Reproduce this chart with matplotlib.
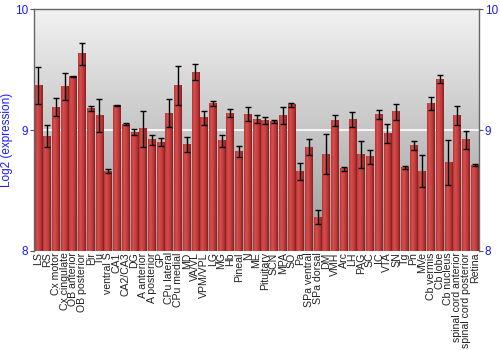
import matplotlib
matplotlib.use('Agg')
import matplotlib.pyplot as plt
import numpy as np
from matplotlib.colors import LinearSegmentedColormap

regions = ['LS', 'RS', 'Cx motor', 'Cx cingulate', 'OB anterior', 'OB posterior',
           'Pir', 'Tu', 'ventral S', 'CA1', 'CA2/CA3', 'DG', 'A anterior',
           'A posterior', 'GP', 'CPu lateral', 'CPu medial', 'MD', 'VA/VL',
           'VPM/VPL', 'LG', 'MG', 'Hb', 'Pineal', 'N', 'ME', 'Pituitary', 'SCN',
           'MPA', 'SO', 'Pa', 'SPa ventral', 'SPa dorsal', 'DM', 'VMH', 'Arc',
           'LH', 'PAG', 'SC', 'IC', 'VTA', 'SN', 'Tg', 'Pn', 'MVe', 'Cb vermis',
           'Cb lobe', 'Cb nucleus', 'spinal cord anterior',
           'spinal cord posterior', 'Retina']

expression = [9.37, 8.95, 9.19, 9.36, 9.44, 9.63, 9.18, 9.12, 8.66, 9.20,
              9.05, 8.98, 9.01, 8.92, 8.90, 9.14, 9.37, 8.88, 9.48, 9.10,
              9.22, 8.91, 9.14, 8.82, 9.13, 9.09, 9.08, 9.07, 9.12, 9.21,
              8.66, 8.86, 8.28, 8.80, 9.08, 8.68, 9.09, 8.80, 8.78, 9.13,
              8.97, 9.15, 8.69, 8.87, 8.66, 9.22, 9.42, 8.73, 9.12, 8.92,
              8.71]

errors = [0.155, 0.09, 0.073, 0.115, 0.005, 0.09, 0.02, 0.135, 0.015, 0.005,
          0.01, 0.025, 0.15, 0.04, 0.03, 0.118, 0.16, 0.06, 0.066, 0.055,
          0.02, 0.048, 0.035, 0.044, 0.058, 0.036, 0.027, 0.014, 0.073, 0.017,
          0.07, 0.069, 0.06, 0.165, 0.043, 0.015, 0.062, 0.113, 0.057, 0.038,
          0.076, 0.066, 0.015, 0.037, 0.13, 0.051, 0.034, 0.186, 0.077, 0.073,
          0.005]

ymin, ymax = 8, 10
blue = '#1a1aff'

fig = plt.figure(figsize=(5, 3.5), dpi=100)
ax = fig.add_axes([0.068, 0.283, 0.89, 0.691])

x = np.arange(len(regions))
width = 0.88

# фон с градиентом: светлый сверху, темнее снизу
bg = np.linspace(1, 0, 256).reshape(-1, 1)
bg_cmap = LinearSegmentedColormap.from_list('bg', ['#f2f2f2', '#9a9a9a'])
ax.imshow(bg, cmap=bg_cmap, aspect='auto', zorder=0, origin='lower',
          extent=[-0.5, len(regions) - 0.5, ymin, ymax])

ax.axhline(9, color='white', linewidth=1.2, zorder=1)

# столбцы с горизонтальным градиентом
bar_cmap = LinearSegmentedColormap.from_list(
    'bar', ['#b03636', '#d84e4e', '#cc4444', '#b63434', '#842020'])
grad = np.linspace(0, 1, 32).reshape(1, -1)
bars = ax.bar(x, np.array(expression) - ymin, bottom=ymin, width=width,
              color='none', edgecolor='none', zorder=2)
for b, val in zip(bars, expression):
    x0 = b.get_x()
    ax.imshow(grad, cmap=bar_cmap, aspect='auto', zorder=2,
              extent=[x0, x0 + width, ymin, val])

ax.errorbar(x, expression, yerr=errors, fmt='none', ecolor='black',
            elinewidth=1, capsize=2, capthick=1, zorder=3)

ax.set_xlim(-0.5, len(regions) - 0.5)
ax.set_ylim(ymin, ymax)
ax.set_yticks([8, 9, 10])
ax.set_xticks(x)
ax.set_xticklabels(regions, rotation=90, fontsize=7.6, color='#222222',
                   family='Liberation Sans')
ax.tick_params(axis='x', length=0, pad=1)
ax.tick_params(axis='y', labelsize=8.5, labelcolor=blue, color='#555555',
               length=3, left=True, right=True, labelleft=True,
               labelright=True, pad=1)
for lab in ax.get_yticklabels():
    lab.set_family('Liberation Sans')

for side in ['left', 'right', 'top']:
    ax.spines[side].set_color('#666666')
    ax.spines[side].set_linewidth(1)
ax.spines['bottom'].set_visible(False)

ax.set_ylabel('Log2 (expression)', color=blue, fontsize=8.5,
              family='Liberation Sans')
ax.yaxis.set_label_coords(-0.047, 0.46)

fig.savefig('out.png', dpi=100)
